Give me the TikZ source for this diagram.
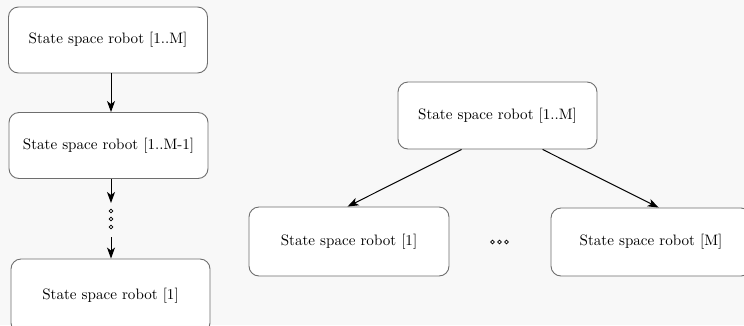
\documentclass[tikz,border=0pt]{standalone}
\usetikzlibrary{arrows.meta,calc}
\definecolor{bgc}{RGB}{248,248,248}
\definecolor{boxline}{RGB}{110,110,110}
\newcommand{\boxlbl}[1]{\scalebox{1.51}{#1}}
\begin{document}
\begin{tikzpicture}[x=1pt,y=-1pt,
  box/.style={draw=boxline,line width=0.9pt,fill=white,rounded corners=10pt,
    minimum width=199pt,minimum height=66pt,inner sep=0pt,font=\normalsize},
  arr/.style={draw=black,line width=1pt,-{Stealth[length=11pt,width=8pt,inset=3pt]}},
  dot/.style={circle,draw=black,line width=0.7pt,minimum size=3.6pt,inner sep=0pt}]
\useasboundingbox (0,0) rectangle (744,325);
\begin{scope}
\clip (0,0) rectangle (744,325);
\fill[bgc] (0,0) rectangle (744,325);
% left column
\node[box] (A) at (108,40) {\boxlbl{State space robot [1..M]}};
\node[box] (B) at (108.5,145.5) {\boxlbl{State space robot [1..M-1]}};
\node[box,minimum height=74pt] (C) at (110.5,296) {\boxlbl{State space robot [1]}};
\coordinate (d0) at (111,203);
\coordinate (d4) at (111,237);
\node[dot] (v1) at (111,211) {};
\node[dot] (v2) at (111,219) {};
\node[dot] (v3) at (111,227) {};
\draw[arr] ($(B.south)+(2.5,0)$) -- (d0);
\draw[arr] (d4) -- ($(C.north)+(0.5,0)$);
\draw[arr] ($(A.south)+(3,0)$) -- ($(B.north)+(2.5,0)$);
% right tree
\node[box,minimum height=67pt] (T) at (497.5,115.5) {\boxlbl{State space robot [1..M]}};
\node[box,minimum width=200pt,minimum height=69pt] (L) at (349,241.5) {\boxlbl{State space robot [1]}};
\node[box,minimum width=200pt,minimum height=68pt] (R) at (651,242) {\boxlbl{State space robot [M]}};
\node[dot] (h1) at (492.5,242) {};
\node[dot] (h2) at (499.5,242) {};
\node[dot] (h3) at (506.5,242) {};
\draw[arr] ($(T.south west)+(64,0)$) -- ($(L.north west)+(99,0)$);
\draw[arr] ($(T.south west)+(145,0)$) -- ($(R.north west)+(108,0)$);
\end{scope}
\end{tikzpicture}
\end{document}
